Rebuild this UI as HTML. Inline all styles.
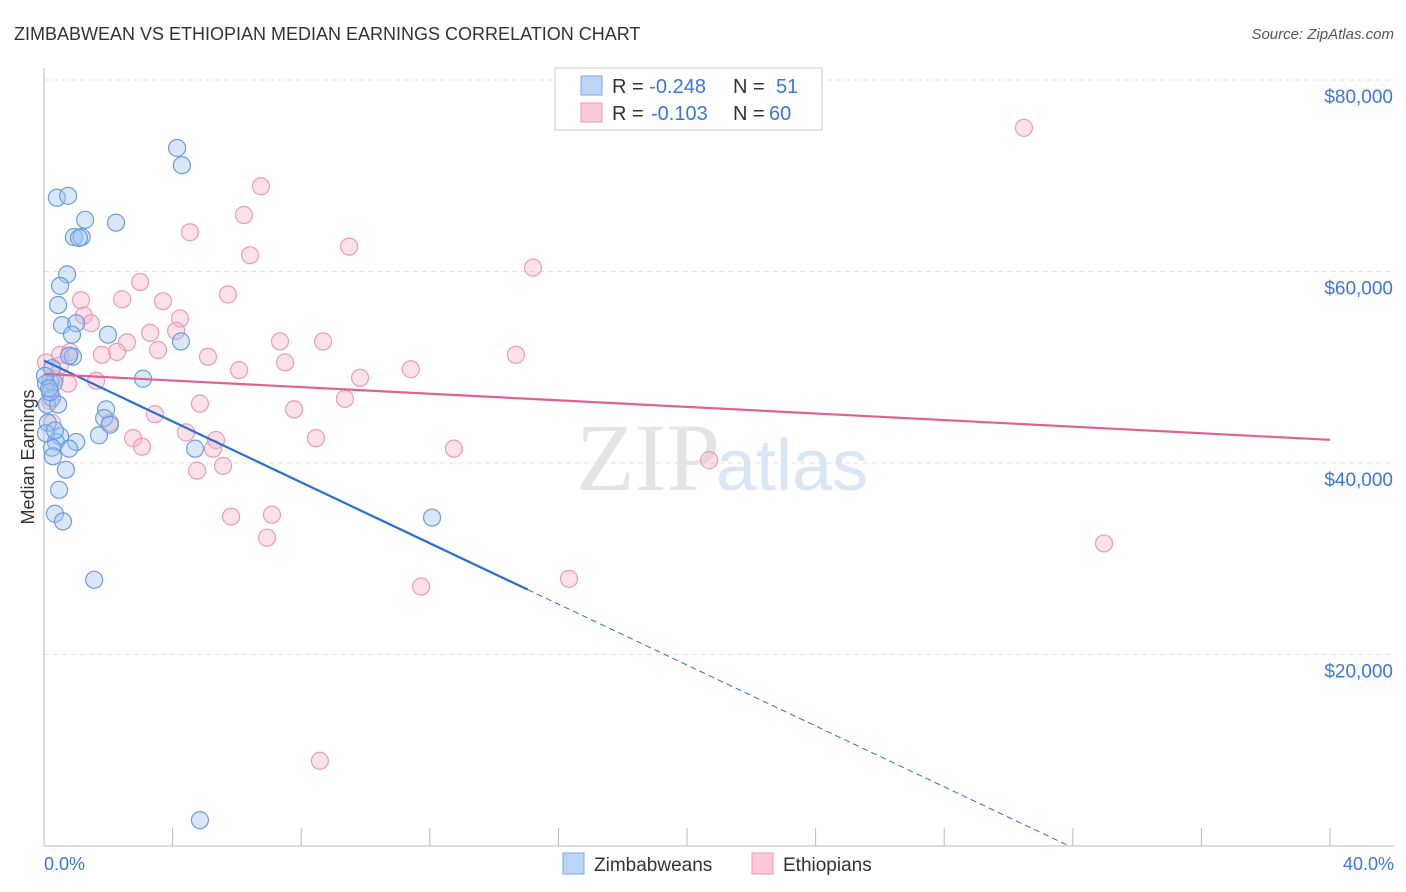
<!DOCTYPE html>
<html><head><meta charset="utf-8"><style>
body{margin:0;background:#fff;font-family:"Liberation Sans",sans-serif;}
#c{position:absolute;left:0;top:0;}
</style></head><body>
<svg id="c" width="1406" height="892" font-family="Liberation Sans, sans-serif">
<text x="14" y="40" font-size="18" fill="#333">ZIMBABWEAN VS ETHIOPIAN MEDIAN EARNINGS CORRELATION CHART</text>
<text x="1394" y="39" font-size="15" fill="#555" font-style="italic" text-anchor="end">Source: ZipAtlas.com</text>
<text x="720" y="490" font-size="96" fill="#e4e4e4" font-family="Liberation Serif, serif" text-anchor="end">ZIP</text>
<text x="716" y="490" font-size="72" fill="#d8e6f5">atlas</text>
<g id="grid"></g>
<line x1="44" y1="68" x2="44" y2="846" stroke="#bbb"/>
<line x1="44" y1="846" x2="1394" y2="846" stroke="#bbb"/>
<text x="34" y="457" font-size="18" fill="#333" text-anchor="middle" transform="rotate(-90 34 457)">Median Earnings</text>
<text x="44" y="870" font-size="18" fill="#3a78d6">0.0%</text>
<text x="1394" y="870" font-size="18" fill="#3a78d6" text-anchor="end">40.0%</text>
<g id="pts"></g>
<g id="trend"></g>
<g>
<rect x="555" y="68" width="267" height="62" fill="#fff" stroke="#ccc"/>
<rect x="581" y="76" width="21" height="19" fill="#bcd5f5" stroke="#7aa7e6"/>
<rect x="581" y="103" width="21" height="19" fill="#fbc9d9" stroke="#ee9ab5"/>
<text x="612" y="93" font-size="20" fill="#333">R = <tspan fill="#3a78d6">-0.248</tspan><tspan x="733">N = </tspan><tspan x="776" fill="#3a78d6">51</tspan></text>
<text x="612" y="120" font-size="20" fill="#333">R = <tspan x="651" fill="#3a78d6">-0.103</tspan><tspan x="733">N = </tspan><tspan x="769" fill="#3a78d6">60</tspan></text>
</g>
<g>
<rect x="563" y="853" width="21" height="21" fill="#bcd5f5" stroke="#7aa7e6"/>
<text x="594" y="871" font-size="19" fill="#333">Zimbabweans</text>
<rect x="752" y="853" width="21" height="21" fill="#fbc9d9" stroke="#ee9ab5"/>
<text x="783" y="871" font-size="19" fill="#333">Ethiopians</text>
</g>
</svg>
<script>
const yTicks=[20000,40000,60000,80000];
const yTickLabels=["$20,000","$40,000","$60,000","$80,000"];
const xTicks=[0,4,8,12,16,20,24,28,32,36,40];
const zimX=[4.14,4.29,0.40,0.75,1.28,2.24,0.93,1.17,1.09,0.72,0.50,0.44,0.56,1.00,0.87,1.99,4.26,0.90,0.78,0.25,0.19,0.31,0.06,3.08,0.25,0.09,0.44,1.93,1.87,2.05,1.71,0.50,1.00,0.37,0.25,0.78,4.70,0.28,0.68,0.47,0.34,0.59,12.07,1.56,4.85,0.12,0.19,0.06,0.03,0.34,0.16];
const zimY=[72900,71100,67700,67900,65400,65100,63600,63600,63500,59700,58500,56500,54400,54600,53400,53400,52700,51100,51200,49900,48500,48400,48300,48800,46800,46100,46100,45600,44700,44000,42900,42800,42200,42200,41600,41500,41500,40700,39300,37200,34700,33900,34300,27800,2700,44200,47400,43100,49100,43400,47800];
const ethX=[30.48,6.75,6.22,4.54,6.41,9.49,15.21,2.99,1.15,2.43,3.70,5.72,1.24,1.46,4.23,3.30,4.11,2.58,7.34,8.68,2.27,1.80,0.50,0.81,3.55,5.10,14.68,7.50,6.07,11.41,9.83,1.62,0.75,0.34,0.06,9.36,4.85,7.78,3.45,2.05,4.42,2.77,3.05,5.35,5.26,8.46,5.57,12.75,20.69,4.76,5.82,7.09,6.94,11.73,16.33,32.97,8.58,0.50,0.19,0.25];
const ethY=[75000,68900,65900,64100,61700,62600,60400,58900,57000,57100,56900,57600,55400,54600,55100,53600,53800,52600,52700,52700,51600,51300,51300,51600,51800,51100,51300,50500,49700,49800,48900,48600,48300,48800,50500,46700,46200,45600,45100,44200,43200,42600,41700,42400,41500,42600,39700,41500,40300,39200,34400,34600,32200,27100,27900,31600,8900,50200,46500,44200];
const trendStartPct=0, trendZimEndPct=15.05, trendZimDashEndPct=31.8;
const zimA=50700, zimB=-1590, ethA=49300, ethB=-172;
const X=p=>44+p/40*1286, Y=v=>846-v/20000*191.5;
const NS="http://www.w3.org/2000/svg";
function mk(t,a,parent){const e=document.createElementNS(NS,t);for(const k in a)e.setAttribute(k,a[k]);parent.appendChild(e);return e;}
const grid=document.getElementById('grid');
yTicks.forEach((v,i)=>{
 const l=mk('line',{x1:44,x2:1394,y1:Y(v),y2:Y(v),stroke:'#e2e2e2','stroke-dasharray':'5,4'},grid);
 
 
 const t=mk('text',{x:1393,y:Y(v)+23,'font-size':19,fill:'#3a78d6','text-anchor':'end'},grid);
 t.textContent=yTickLabels[i];
 
 
});
xTicks.forEach(p=>{
 const l=mk('line',{x1:X(p),x2:X(p),y1:828,y2:846,stroke:'#bbb'},grid);
 
 
});
const pts=document.getElementById('pts');
ethX.forEach((x,i)=>{
 const c=mk('circle',{cx:X(x),cy:Y(ethY[i]),r:8.5,fill:'rgba(248,180,202,0.4)',stroke:'#ee9ab5','stroke-width':1.2},pts);
 
 
});
zimX.forEach((x,i)=>{
 const c=mk('circle',{cx:X(x),cy:Y(zimY[i]),r:8.5,fill:'rgba(160,196,240,0.4)',stroke:'#6a9de0','stroke-width':1.2},pts);
 
 
});
const tr=document.getElementById('trend');
const f=(a,b,p)=>a+b*p;
let l1=mk('line',{x1:X(0),y1:Y(f(zimA,zimB,0)),x2:X(trendZimEndPct),y2:Y(f(zimA,zimB,trendZimEndPct)),stroke:'#2a6fd6','stroke-width':2.2},tr);


let l2=mk('line',{x1:X(trendZimEndPct),y1:Y(f(zimA,zimB,trendZimEndPct)),x2:X(trendZimDashEndPct),y2:Y(f(zimA,zimB,trendZimDashEndPct)),stroke:'#2a6fd6','stroke-width':1,'stroke-dasharray':'6,4'},tr);


let l3=mk('line',{x1:X(0),y1:Y(f(ethA,ethB,0)),x2:X(40),y2:Y(f(ethA,ethB,40)),stroke:'#e0638f','stroke-width':2.2},tr);


</script>
</body></html>
